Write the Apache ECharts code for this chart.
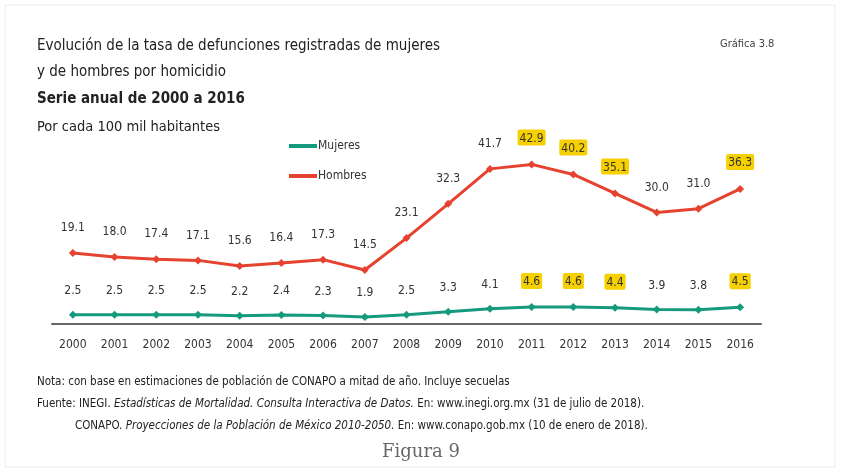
<!DOCTYPE html>
<html>
<head>
<meta charset="utf-8">
<script src="https://cdn.jsdelivr.net/npm/echarts@6/dist/echarts.min.js"></script>
<style>
  html, body { margin: 0; padding: 0; background: #fff; }
  #chart { width: 842px; height: 473px; }
</style>
</head>
<body>
<div id="chart"></div>
<script>
// datos de la grafica
var years = ['2000', '2001', '2002', '2003', '2004', '2005', '2006', '2007', '2008',
    '2009', '2010', '2011', '2012', '2013', '2014', '2015', '2016'];
var mujeres = [2.5, 2.5, 2.5, 2.5, 2.2, 2.4, 2.3, 1.9, 2.5, 3.3, 4.1, 4.6, 4.6, 4.4, 3.9, 3.8, 4.5];
var hombres = [19.1, 18.0, 17.4, 17.1, 15.6, 16.4, 17.3, 14.5, 23.1, 32.3, 41.7, 42.9, 40.2, 35.1, 30.0, 31.0, 36.3];
var destacados = ['2011', '2012', '2013', '2016'];

var fontN = "'Liberation Sans Narrow', 'DejaVu Sans Condensed', sans-serif";

function armar(vals) {
    var rs = [];
    for (var i = 0; i < vals.length; i++) {
        var item = { value: vals[i] };
        if (destacados.indexOf(years[i]) >= 0) {
            item.label = { backgroundColor: '#f6d000', padding: [3, 2, 1, 2], borderRadius: 2 };
        }
        rs.push(item);
    }
    return rs;
}

var myChart = echarts.init(document.getElementById('chart'));
var option = {
    backgroundColor: '#fff',
    animation: false,
    textStyle: { fontFamily: fontN },
    grid: { left: 52, right: 81, top: 138, height: 186 },
    legend: {
        orient: 'vertical',
        left: 284,
        top: 135,
        itemGap: 18,
        itemWidth: 28,
        itemHeight: 4,
        icon: 'rect',
        textStyle: { fontFamily: fontN, fontSize: 12, color: '#333', padding: [0, 0, 0, -4] },
        data: ['Mujeres', 'Hombres']
    },
    xAxis: {
        type: 'category',
        data: years,
        boundaryGap: true,
        axisLine: { lineStyle: { color: '#666', width: 2 } },
        axisTick: { show: false },
        axisLabel: { fontFamily: fontN, fontSize: 12, color: '#333', margin: 15 }
    },
    yAxis: {
        type: 'value',
        min: 0,
        max: 50,
        show: false
    },
    series: [{
        name: 'Mujeres',
        type: 'line',
        data: armar(mujeres),
        symbol: 'diamond',
        symbolSize: 8,
        lineStyle: { width: 3, color: '#159a7e' },
        itemStyle: { color: '#159a7e' },
        label: {
            show: true,
            position: 'top',
            distance: 14,
            fontFamily: fontN,
            fontSize: 12,
            color: '#333',
            formatter: function(p) { return p.value.toFixed(1); }
        }
    }, {
        name: 'Hombres',
        type: 'line',
        data: armar(hombres),
        symbol: 'diamond',
        symbolSize: 8,
        lineStyle: { width: 3, color: '#e5432f' },
        itemStyle: { color: '#e5432f' },
        label: {
            show: true,
            position: 'top',
            distance: 15,
            fontFamily: fontN,
            fontSize: 12,
            color: '#333',
            formatter: function(p) { return p.value.toFixed(1); }
        }
    }],
    graphic: [{
        type: 'rect',
        shape: { x: 5, y: 5, width: 830, height: 462 },
        style: { fill: 'none', stroke: '#ececec', lineWidth: 1 },
        silent: true
    }, {
        type: 'text', left: 37, top: 39,
        style: { text: 'Evolución de la tasa de defunciones registradas de mujeres', font: '15px ' + fontN, fill: '#222' }
    }, {
        type: 'text', left: 37, top: 65,
        style: { text: 'y de hombres por homicidio', font: '15px ' + fontN, fill: '#222' }
    }, {
        type: 'text', left: 37, top: 92,
        style: { text: 'Serie anual de 2000 a 2016', font: 'bold 15px ' + fontN, fill: '#222' }
    }, {
        type: 'text', left: 37, top: 120,
        style: { text: 'Por cada 100 mil habitantes', font: '14.5px ' + fontN, fill: '#222' }
    }, {
        type: 'text', left: 720, top: 39,
        style: { text: 'Gráfica 3.8', font: '11px ' + fontN, fill: '#444' }
    }, {
        type: 'text', left: 37, top: 376,
        style: { text: 'Nota: con base en estimaciones de población de CONAPO a mitad de año. Incluye secuelas', font: '11.5px ' + fontN, fill: '#222' }
    }, {
        type: 'text', left: 37, top: 398,
        style: {
            text: 'Fuente: INEGI. {i|Estadísticas de Mortalidad. Consulta Interactiva de Datos.} En: www.inegi.org.mx (31 de julio de 2018).',
            font: '11.5px ' + fontN, fill: '#222',
            rich: { i: { fontStyle: 'italic', fontSize: 11.5, fontFamily: fontN, fill: '#222' } }
        }
    }, {
        type: 'text', left: 75, top: 420,
        style: {
            text: 'CONAPO. {i|Proyecciones de la Población de México 2010-2050.} En: www.conapo.gob.mx (10 de enero de 2018).',
            font: '11.5px ' + fontN, fill: '#222',
            rich: { i: { fontStyle: 'italic', fontSize: 11.5, fontFamily: fontN, fill: '#222' } }
        }
    }, {
        type: 'text', left: 'center', top: 443,
        style: { text: 'Figura 9', font: '18px "DejaVu Serif", "Liberation Serif", serif', fill: '#666' }
    }]
};
myChart.setOption(option);
</script>
</body>
</html>
